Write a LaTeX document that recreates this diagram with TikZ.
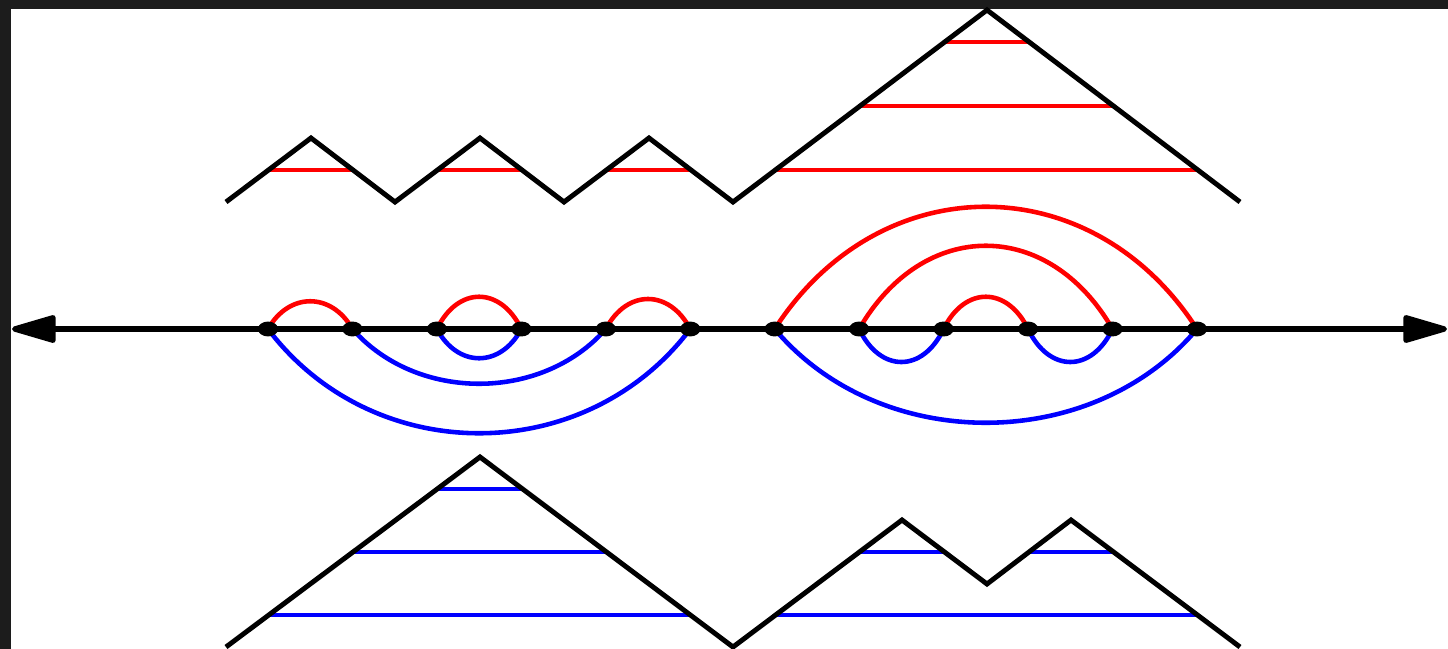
\documentclass[tikz,border=0pt]{standalone}
\usepackage{xcolor}
\usepackage{tikz}
\usetikzlibrary{arrows.meta,shapes.geometric}
\definecolor{frameDark}{HTML}{1C1C1C}
\definecolor{arcRed}{HTML}{FF0000}
\definecolor{arcBlue}{HTML}{0000FF}

\begin{document}
\begin{tikzpicture}[x=0.02cm,y=-0.02cm,
  path/.style={black,line width=2.8pt,line join=miter},
  axis/.style={black,line width=3pt,{Triangle[length=29pt,width=16pt,round]}-{Triangle[length=29pt,width=16pt,round]}},
  redarc/.style={arcRed,line width=2.6pt},
  bluearc/.style={arcBlue,line width=2.6pt},
  dot/.style={ellipse,fill=black,inner sep=0pt,minimum width=11.5pt,minimum height=8.5pt}]
\useasboundingbox (0,0) rectangle (1448,649);
\fill[frameDark] (0,0) rectangle (1448,649);
\fill[white] (11,9) rectangle (1448,649);

% upper path with red chords
\draw[redarc] (268,170)--(352,170) (437,170)--(521,170) (606,170)--(690,170);
\draw[redarc] (775,170)--(1197,170) (859,106)--(1113,106) (944,42)--(1028,42);
\draw[path] (226,202)--(311,138)--(395,202)--(480,138)--(564,202)--(649,138)--(733,202)--(987,10)--(1240,202);

% lower path with blue chords
\draw[bluearc] (268,615)--(690,615) (352,552)--(606,552) (437,489)--(521,489);
\draw[bluearc] (775,615)--(1197,615) (859,552)--(944,552) (1028,552)--(1113,552);
\draw[path] (226,647)--(480,457)--(733,647)--(902,520)--(987,584)--(1071,520)--(1240,647);

% line with points
\coordinate (west) at (12,329);
\coordinate (east) at (1447,329);
\foreach \i in {0,...,11}
  \coordinate (p\i) at ({268+84.45*\i},329);
\draw[axis] (west)--(east);

\draw[redarc] (p0) .. controls +(21,-37) and +(-21,-37) .. (p1);
\draw[redarc] (p2) .. controls +(21,-43) and +(-21,-43) .. (p3);
\draw[redarc] (p4) .. controls +(21,-40) and +(-21,-40) .. (p5);
\draw[redarc] (p6) .. controls +(105,-163) and +(-105,-163) .. (p11);
\draw[redarc] (p7) .. controls +(64,-111) and +(-64,-111) .. (p10);
\draw[redarc] (p8) .. controls +(21,-43) and +(-21,-43) .. (p9);

\draw[bluearc] (p2) .. controls +(21,39) and +(-21,39) .. (p3);
\draw[bluearc] (p1) .. controls +(64,73) and +(-64,73) .. (p4);
\draw[bluearc] (p0) .. controls +(105,139) and +(-105,139) .. (p5);
\draw[bluearc] (p6) .. controls +(105,125) and +(-105,125) .. (p11);
\draw[bluearc] (p7) .. controls +(21,44) and +(-21,44) .. (p8);
\draw[bluearc] (p9) .. controls +(21,44) and +(-21,44) .. (p10);

\foreach \i in {0,...,11}
  \node[dot] (d\i) at (p\i) {};
\end{tikzpicture}
\end{document}
